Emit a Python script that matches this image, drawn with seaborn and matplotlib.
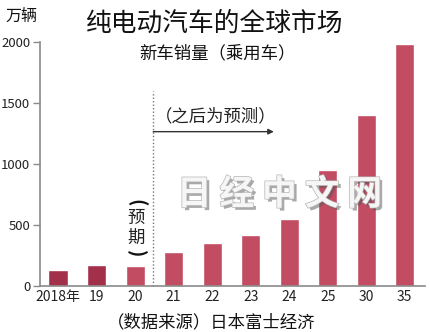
import matplotlib
matplotlib.use("Agg")
import matplotlib.pyplot as plt
import matplotlib.patheffects as pe
import seaborn as sns
import pandas as pd

# ---- data ----
years = ["2018年", "19", "20", "21", "22", "23", "24", "25", "30", "35"]
sales = [131, 172, 166, 279, 352, 418, 549, 950, 1402, 1984]
bar_colors = ["#a3304a", "#a3304a", "#c24c62", "#c24c62", "#c24c62",
              "#c24c62", "#c24c62", "#c24c62", "#c24c62", "#c24c62"]
yticks = [0, 500, 1000, 1500, 2000]

title = "纯电动汽车的全球市场"
subtitle = "新车销量（乘用车）"
unit = "万辆"
source = "（数据来源）日本富士经济"
forecast_note = "（之后为预测）"
expected_chars = ["预", "期"]
watermark = "日 经 中 文 网"

sns.set_theme(style="white")
plt.rcParams["font.family"] = ["Noto Sans CJK SC", "DejaVu Sans"]

df = pd.DataFrame({"year": years, "sales": sales})

fig = plt.figure(figsize=(4.3, 3.32), dpi=100)
ax = fig.add_axes([0.093, 0.1386, 0.895, 0.7349])

sns.barplot(data=df, x="year", y="sales", hue="year", order=years,
            hue_order=years, palette=bar_colors, width=0.5,
            saturation=1, legend=False, ax=ax)

ax.set_xlim(-0.47, 9.52)
ax.set_ylim(0, 2000)
ax.set_yticks(yticks)
ax.set_yticklabels([str(v) for v in yticks], fontsize=9.5, color="#222222")
ax.set_xticklabels(years, fontsize=10, color="#222222")
ax.set_xlabel("")
ax.set_ylabel("")
for s in ["top", "right"]:
    ax.spines[s].set_visible(False)
for s in ["left", "bottom"]:
    ax.spines[s].set_color("#8a8a8a")
    ax.spines[s].set_linewidth(1.2)
ax.tick_params(axis="y", length=5, width=1, color="#8a8a8a", pad=2, left=True)
ax.tick_params(axis="x", length=0, pad=3)

# forecast divider and arrow
ax.plot([2.47, 2.47], [0, 1600], linestyle=(0, (1, 1.5)), color="#777777",
        linewidth=1.0, clip_on=False)
ax.annotate("", xy=(5.6, 1265), xytext=(2.47, 1265),
            arrowprops=dict(arrowstyle="-|>", color="#333333", lw=1.0,
                            mutation_scale=8, shrinkA=0, shrinkB=0))
ax.text(2.52, 1390, forecast_note, fontsize=12.5, color="#222222",
        ha="left", va="center")

# vertical "(预期)"
ax.text(2.02, 680, "(", fontsize=14, color="#111111", rotation=270,
        fontweight="bold", ha="center", va="center")
ax.text(2.02, 555, expected_chars[0], fontsize=12.5, color="#222222",
        ha="center", va="center")
ax.text(2.02, 395, expected_chars[1], fontsize=12.5, color="#222222",
        ha="center", va="center")
ax.text(2.02, 268, ")", fontsize=14, color="#111111", rotation=270,
        fontweight="bold", ha="center", va="center")

# titles
fig.text(0.5, 0.93, title, fontsize=18.5, ha="center", va="center",
         color="#111111")
fig.text(0.505, 0.84, subtitle, fontsize=12.5, ha="center", va="center",
         color="#111111")
fig.text(0.05, 0.95, unit, fontsize=11.5, ha="center", va="center",
         color="#111111")
fig.text(0.49, 0.03, source, fontsize=12.5, ha="center", va="center",
         color="#111111")

# watermark
fig.text(0.65, 0.415, watermark, fontsize=25, ha="center", va="center",
         color="#f6f6f6", fontweight="bold",
         path_effects=[pe.withSimplePatchShadow(offset=(2, -2),
                                                 shadow_rgbFace="#555555",
                                                 alpha=0.5),
                       pe.Stroke(linewidth=1.0, foreground="#b5b5b5"),
                       pe.Normal()])

fig.savefig("out.png", dpi=100)
